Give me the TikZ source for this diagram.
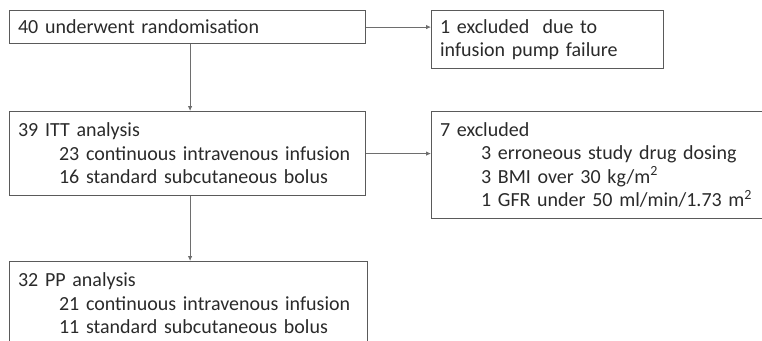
\documentclass[tikz,border=0pt]{standalone}
\usepackage{fontspec}
\setmainfont{Carlito}
\usepackage{tikz}
\usetikzlibrary{arrows.meta}

\definecolor{boxline}{HTML}{5A5A5A}
\definecolor{arrline}{HTML}{6E6E6E}
\definecolor{boxtext}{HTML}{2A2A2A}

\tikzset{
    flowbox/.style={draw=boxline, line width=1.2pt, anchor=north west, align=left,
        inner xsep=8.5pt, inner ysep=0pt, text=boxtext,
        font=\fontsize{20}{23.5}\selectfont},
    flowarr/.style={draw=arrline, line width=0.8pt, -{Latex[length=5pt,width=4.5pt]}}
}
\newcommand{\ind}{\hspace*{41pt}}

\begin{document}
\begin{tikzpicture}[x=1pt,y=1pt]
    \useasboundingbox (0,0) rectangle (762,-340);

    % nodes (boxes)
    \node[flowbox, minimum width=356pt, minimum height=33pt, text width=339pt] (rand) at (9,-10)
        {40 underwent randomisation};
    \node[flowbox, minimum width=232pt, minimum height=58pt, text width=215pt] (exclpump) at (431,-10)
        {1 excluded\ \ due to\\infusion pump failure};
    \node[flowbox, minimum width=356pt, minimum height=84pt, text width=339pt] (itt) at (9,-111)
        {39 ITT analysis\\\ind\mbox{23 continuous intravenous infusion}\\\ind 16 standard subcutaneous bolus};
    \node[flowbox, minimum width=334pt, minimum height=107pt, text width=317pt] (exclpp) at (431,-111)
        {7 excluded\\\ind 3 erroneous study drug dosing\\\ind 3 BMI over 30 kg/m\textsuperscript{2}\\\ind\mbox{1 GFR under 50 ml/min/1.73 m\textsuperscript{2}}};
    \node[flowbox, minimum width=358pt, minimum height=84pt, text width=341pt] (pp) at (9,-261)
        {32 PP analysis\\\ind\mbox{21 continuous intravenous infusion}\\\ind 11 standard subcutaneous bolus};

    % edges
    \draw[flowarr] (rand.east) -- (rand.east -| exclpump.west); % rand -> excluded
    \draw[flowarr] ([xshift=2.5pt]rand.south) -- ([xshift=2.5pt]itt.north); % rand -> ITT
    \draw[flowarr] (itt.east) -- (itt.east -| exclpp.west); % ITT -> excluded
    \draw[flowarr] ([xshift=2.5pt]itt.south) -- ([xshift=2.5pt]itt.south |- pp.north); % ITT -> PP

\end{tikzpicture}
\end{document}
